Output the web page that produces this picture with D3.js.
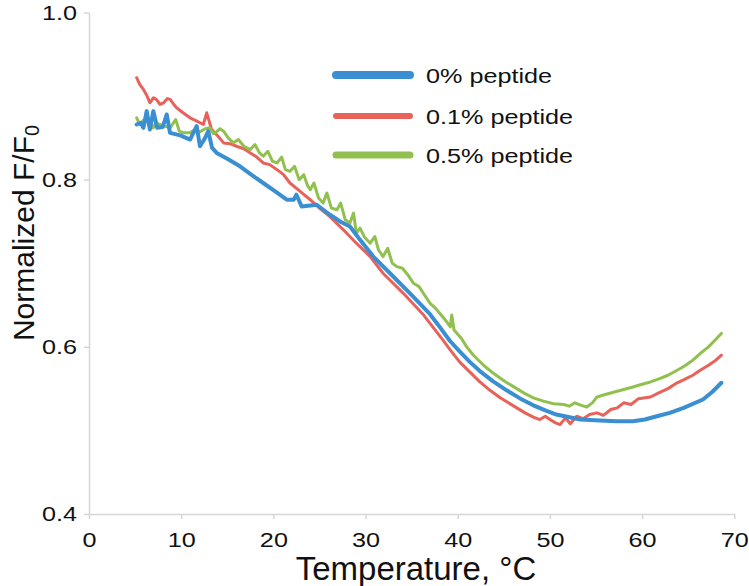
<!DOCTYPE html>
<html>
<head>
<meta charset="utf-8">
<script src="https://cdn.jsdelivr.net/npm/d3@7"></script>
<style>
  html, body { margin: 0; padding: 0; background: #fff; }
  svg { display: block; font-family: "Liberation Sans", Arial, Helvetica, sans-serif; }
</style>
</head>
<body>
<svg id="chart" width="749" height="586"></svg>
<script>
// ---- data ----
const xTicks = [0, 10, 20, 30, 40, 50, 60, 70];
const yTicks = [0.4, 0.6, 0.8, 1.0];
const seriesNames = ["0% peptide", "0.1% peptide", "0.5% peptide"];
const seriesColors = ["#3a8fd2", "#e8625a", "#91c04f"];

const temp0 = [5.17,5.6,5.9,6.26,6.6,6.98,7.4,8.0,8.43,8.79,9.9,10.96,11.68,12.04,12.5,12.94,13.35,13.85,15.0,16.38,17.6,18.9,20.2,21.45,22.2,22.5,23.07,24.7,26.14,27.23,28.31,29.4,30.84,32.65,34.82,36.99,38.1,39.16,40.25,41.3,42.4,43.8,45.3,46.8,48.2,49.5,50.7,52.0,53.3,55.4,57.2,59.0,60.3,61.6,63.0,64.5,66.6,67.6,68.6];
const val0  = [0.866,0.868,0.862,0.882,0.860,0.882,0.862,0.863,0.878,0.856,0.853,0.848,0.864,0.840,0.848,0.858,0.838,0.832,0.825,0.816,0.806,0.796,0.786,0.776,0.776,0.782,0.768,0.770,0.758,0.750,0.744,0.728,0.708,0.688,0.664,0.639,0.623,0.607,0.594,0.582,0.571,0.559,0.548,0.538,0.530,0.524,0.519,0.516,0.513,0.512,0.511,0.511,0.513,0.517,0.521,0.527,0.537,0.546,0.557];

const temp1 = [5.17,5.5,5.9,6.3,6.6,7.0,7.3,7.7,8.1,8.5,8.8,9.2,9.5,10.2,10.96,11.7,12.4,12.77,13.3,14.0,14.6,15.3,16.0,16.8,17.5,18.2,18.9,19.6,20.4,21.1,21.8,22.9,24.0,25.0,26.1,27.6,29.0,30.5,31.9,34.1,36.3,38.4,39.2,40.2,41.3,42.4,43.5,44.6,45.5,46.4,47.3,48.2,48.9,49.5,50.0,50.6,51.1,51.7,52.2,52.9,53.6,54.3,55.1,55.8,56.6,57.3,58.0,58.8,59.6,60.9,61.8,62.8,63.8,64.6,65.5,66.3,67.2,68.0,68.6];
const val1  = [0.922,0.914,0.908,0.900,0.892,0.898,0.896,0.890,0.892,0.897,0.896,0.890,0.886,0.880,0.874,0.870,0.866,0.880,0.860,0.852,0.844,0.843,0.840,0.837,0.832,0.827,0.820,0.818,0.812,0.806,0.796,0.786,0.776,0.766,0.756,0.740,0.724,0.708,0.688,0.664,0.638,0.608,0.596,0.582,0.570,0.558,0.548,0.539,0.533,0.527,0.521,0.516,0.513,0.517,0.513,0.509,0.507,0.515,0.508,0.517,0.514,0.519,0.521,0.518,0.525,0.527,0.533,0.531,0.538,0.540,0.545,0.550,0.557,0.561,0.566,0.572,0.578,0.584,0.590];

const temp2 = [5.17,5.5,5.9,6.26,6.6,6.95,7.3,7.7,8.2,8.8,9.4,9.8,10.2,10.96,11.5,12.0,12.6,13.1,13.5,13.8,14.2,14.6,15.1,15.65,16.2,16.8,17.5,18.0,18.5,18.9,19.4,19.9,20.4,20.9,21.3,21.8,22.3,22.8,23.3,23.7,24.0,24.4,24.9,25.4,25.8,26.3,26.9,27.3,27.8,28.3,28.7,29.0,29.4,29.9,30.5,31.0,31.4,31.9,32.4,32.9,33.4,34.0,34.6,35.2,35.8,36.4,37.0,37.6,38.2,38.8,39.2,39.35,39.6,40.4,40.97,41.7,42.8,43.9,45.2,46.4,47.3,48.2,49.3,50.4,51.5,52.1,52.7,53.4,54.0,54.6,55.1,56.0,57.0,58.0,59.0,59.9,60.9,61.9,62.8,63.8,64.6,65.5,66.3,67.2,68.0,68.6];
const val2  = [0.874,0.866,0.871,0.870,0.872,0.862,0.868,0.866,0.864,0.862,0.872,0.858,0.856,0.856,0.860,0.857,0.861,0.862,0.855,0.857,0.861,0.858,0.850,0.844,0.848,0.840,0.836,0.842,0.832,0.828,0.834,0.822,0.820,0.827,0.812,0.810,0.816,0.800,0.806,0.793,0.788,0.796,0.778,0.772,0.784,0.766,0.764,0.772,0.752,0.748,0.760,0.736,0.742,0.731,0.724,0.732,0.716,0.708,0.718,0.700,0.696,0.694,0.686,0.676,0.672,0.662,0.652,0.646,0.638,0.630,0.624,0.638,0.620,0.610,0.600,0.590,0.578,0.568,0.558,0.550,0.544,0.539,0.535,0.532,0.531,0.529,0.533,0.530,0.528,0.533,0.540,0.543,0.546,0.549,0.552,0.555,0.558,0.562,0.566,0.572,0.577,0.584,0.592,0.600,0.609,0.616];

const xLabel = "Temperature, \u00B0C";
const yLabelMain = "Normalized F/F";
const yLabelSub = "0";

// ---- drawing ----
const svg = d3.select("#chart");
const x = d3.scaleLinear().domain([0, 70]).range([89, 734.3]);
const y = d3.scaleLinear().domain([0.4, 1.0]).range([514, 12.5]);
const axisColor = "#d6d6d6";
const stretch = "scale(1.2,1)";

const gx = svg.append("g").attr("transform", `translate(0,${y(0.4)})`)
  .call(d3.axisBottom(x).tickValues(xTicks).tickFormat(d3.format("d")).tickSizeInner(5).tickSizeOuter(0).tickPadding(13));
const gy = svg.append("g").attr("transform", `translate(${x(0)},0)`)
  .call(d3.axisLeft(y).tickValues(yTicks).tickFormat(d3.format(".1f")).tickSizeInner(5).tickSizeOuter(0).tickPadding(5));
[gx, gy].forEach(g => {
  g.select(".domain").attr("stroke", axisColor).attr("stroke-width", 1.5);
  g.selectAll(".tick line").attr("stroke", axisColor).attr("stroke-width", 1.5);
  g.selectAll(".tick text").attr("fill", "#111").attr("font-size", 21)
    .attr("font-family", "\"Liberation Sans\", Arial, sans-serif")
    .attr("transform", stretch);
});

const series = [
  {name: seriesNames[1], color: seriesColors[1], t: temp1, v: val1, w: 3},
  {name: seriesNames[2], color: seriesColors[2], t: temp2, v: val2, w: 3},
  {name: seriesNames[0], color: seriesColors[0], t: temp0, v: val0, w: 4}
];
const line = d3.line().x(d => x(d[0])).y(d => y(d[1]));
series.forEach(s => {
  svg.append("path")
    .datum(s.t.map((t, i) => [t, s.v[i]]))
    .attr("fill", "none")
    .attr("stroke", s.color)
    .attr("stroke-width", s.w)
    .attr("stroke-linejoin", "round")
    .attr("stroke-linecap", "round")
    .attr("d", line);
});

// legend
const legendY = [75, 116, 155];
const legendW = [8, 6, 7];
const lg = svg.append("g");
seriesNames.forEach((n, i) => {
  lg.append("line").attr("x1", 336).attr("x2", 410)
    .attr("y1", legendY[i]).attr("y2", legendY[i])
    .attr("stroke", seriesColors[i]).attr("stroke-width", legendW[i]).attr("stroke-linecap", "round");
  lg.append("text").attr("transform", `translate(426,${legendY[i]}) ${stretch}`).attr("dy", "0.36em")
    .attr("font-size", 21).attr("fill", "#111").text(n);
});

// axis titles
svg.append("text").attr("x", 416).attr("y", 580).attr("text-anchor", "middle")
  .attr("font-size", 33).attr("fill", "#111").text(xLabel);
const yt = svg.append("text").attr("transform", "translate(34,233) rotate(-90)")
  .attr("text-anchor", "middle").attr("font-size", 30).attr("fill", "#111");
yt.append("tspan").text(yLabelMain);
yt.append("tspan").attr("font-size", 20).attr("dy", 5).text(yLabelSub);
</script>
</body>
</html>
